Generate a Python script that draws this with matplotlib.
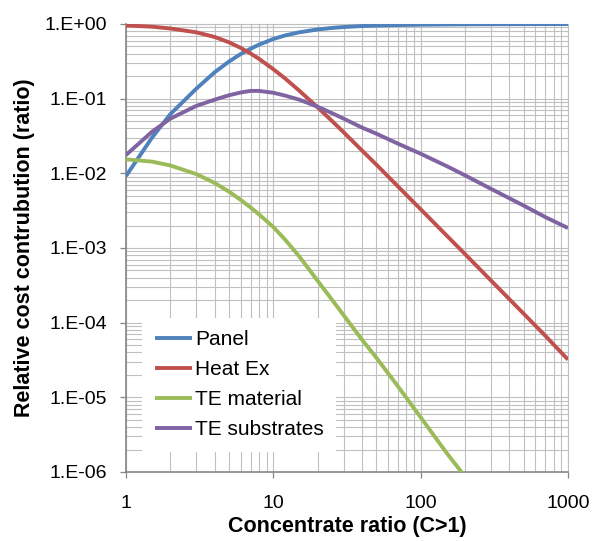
import numpy as np
import matplotlib
matplotlib.use("Agg")
import matplotlib.pyplot as plt
from matplotlib.ticker import LogLocator, FuncFormatter, NullFormatter

plt.rcParams['font.family'] = ['Liberation Sans', 'DejaVu Sans']

# concentrate ratio values
conc = [1, 1.5, 2, 3, 4, 5, 6, 7, 8, 10, 12, 15, 20, 25, 30, 40, 50, 70,
        100, 150, 200, 300, 500, 700, 1000]

panel = [0.0092, 0.030, 0.062, 0.136, 0.226, 0.314, 0.396, 0.466, 0.529,
         0.630, 0.702, 0.774, 0.845, 0.886, 0.910, 0.939, 0.953, 0.968,
         0.978, 0.986, 0.990, 0.993, 0.996, 0.997, 0.998]

heat_ex = [0.958, 0.920, 0.871, 0.774, 0.670, 0.569, 0.479, 0.403, 0.341,
           0.248, 0.187, 0.128, 0.0763, 0.0503, 0.0355, 0.0202, 0.0131,
           0.0067, 0.0033, 0.00147, 0.00083, 0.000367, 0.000132, 6.7e-5,
           3.2e-5]

te_material = [0.0154, 0.01435, 0.01274, 0.00977, 0.00743, 0.00569, 0.00441,
               0.00350, 0.00282, 0.00191, 0.00130, 7.7e-4, 3.63e-4, 2.03e-4,
               1.26e-4, 5.9e-5, 3.4e-5, 1.41e-5, 5.4e-6, 1.8e-6, 8.7e-7]

te_substrates = [0.0176, 0.036, 0.054, 0.080, 0.097, 0.111, 0.121, 0.127,
                 0.127, 0.120, 0.110, 0.097, 0.078, 0.064, 0.054, 0.041,
                 0.034, 0.025, 0.0183, 0.0125, 0.0094, 0.0062, 0.0037,
                 0.0026, 0.00185]

labels = ["Panel", "Heat Ex", "TE material", "TE substrates"]
colors = ["#4F81BD", "#C0504D", "#9BBB59", "#8064A2"]

fig = plt.figure(figsize=(5.97, 5.41), dpi=100)
ax = fig.add_axes([126/597, 1 - 472/541, 442/597, 448/541])

series = [panel, heat_ex, te_material, te_substrates]
for vals, lab, col in zip(series, labels, colors):
    ax.plot(conc[:len(vals)], vals, color=col, lw=2.8, label=lab,
            solid_capstyle='butt', zorder=3)

ax.set_xscale('log')
ax.set_yscale('log')
ax.set_xlim(1, 1000)
ax.set_ylim(1e-6, 1)

ax.xaxis.set_major_locator(LogLocator(base=10, numticks=10))
ax.xaxis.set_minor_locator(LogLocator(base=10, subs=np.arange(2, 10), numticks=20))
ax.yaxis.set_major_locator(LogLocator(base=10, numticks=10))
ax.yaxis.set_minor_locator(LogLocator(base=10, subs=np.arange(2, 10), numticks=20))
ax.xaxis.set_major_formatter(FuncFormatter(lambda v, p: "%d" % round(v)))
ax.yaxis.set_major_formatter(
    FuncFormatter(lambda v, p: "1.E%+03d" % int(round(np.log10(v)))))
ax.xaxis.set_minor_formatter(NullFormatter())
ax.yaxis.set_minor_formatter(NullFormatter())

ax.grid(True, which='both', color='#c0c0c0', lw=0.8, zorder=0)
ax.set_axisbelow(True)

for s in ['top', 'right']:
    ax.spines[s].set_color('#c0c0c0')
    ax.spines[s].set_linewidth(0.8)
for s in ['left', 'bottom']:
    ax.spines[s].set_color('#868686')
    ax.spines[s].set_linewidth(1.2)

ax.tick_params(which='major', length=4.5, width=0.9, color='#868686',
               labelsize=14, direction='out')
ax.tick_params(which='minor', length=0)
ax.tick_params(axis='y', pad=9)
ax.tick_params(axis='x', pad=12)

ax.set_xlabel("Concentrate ratio (C>1)", fontsize=15.5, fontweight='bold',
              labelpad=3)
ax.set_ylabel("Relative cost contrubution (ratio)", fontsize=15.5,
              fontweight='bold', labelpad=7)

leg = ax.legend(loc='lower left', bbox_to_anchor=(0.037, 0.045),
                borderaxespad=0, fontsize=15, handlelength=1.78,
                handletextpad=0.15, labelspacing=0.53, borderpad=0.6,
                frameon=True, fancybox=False, framealpha=1)
leg.get_frame().set_edgecolor('none')
leg.get_frame().set_facecolor('white')

fig.savefig("out.png", dpi=100)
